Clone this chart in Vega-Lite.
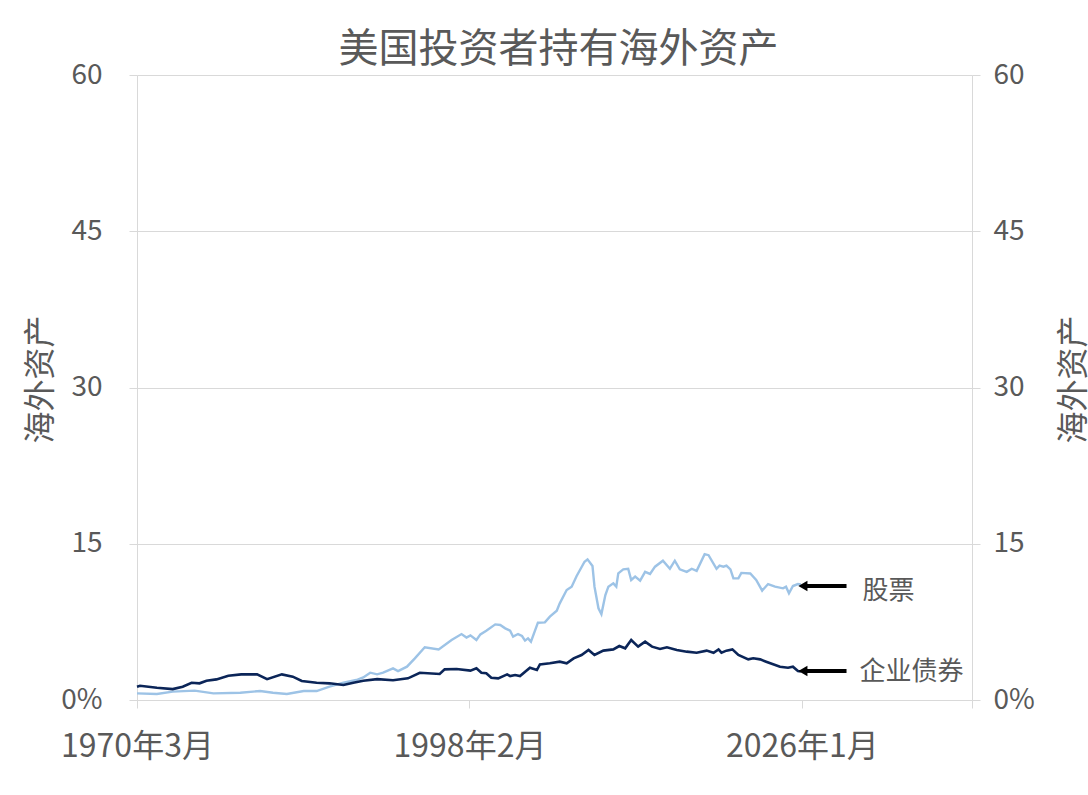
{
  "$schema": "https://vega.github.io/schema/vega-lite/v6.json",
  "autosize": "none",
  "width": 835,
  "height": 625,
  "padding": {"top": 75, "left": 137, "right": 116, "bottom": 95},
  "background": "white",
  "title": {
    "text": "美国投资者持有海外资产",
    "frame": "group",
    "anchor": "middle",
    "baseline": "bottom",
    "offset": 6,
    "dx": 4,
    "dy": 55,
    "font": "Noto Sans CJK SC",
    "fontSize": 40,
    "fontWeight": "normal",
    "color": "#595959"
  },
  "config": {
    "view": {"stroke": null},
    "axis": {
      "labelFont": "Noto Sans CJK SC",
      "titleFont": "Noto Sans CJK SC",
      "labelColor": "#595959",
      "titleColor": "#595959",
      "domainColor": "#d9d9d9",
      "tickColor": "#d9d9d9",
      "gridColor": "#d9d9d9",
      "tickSize": 8,
      "titleFontWeight": "normal"
    }
  },
  "datasets": {
    "series": [
      {"date": "1970-03-01", "s": "股票", "v": 0.64},
      {"date": "1971-11-01", "s": "股票", "v": 0.58},
      {"date": "1973-03-01", "s": "股票", "v": 0.8},
      {"date": "1975-01-01", "s": "股票", "v": 0.9},
      {"date": "1976-08-01", "s": "股票", "v": 0.64},
      {"date": "1978-11-01", "s": "股票", "v": 0.7},
      {"date": "1980-07-01", "s": "股票", "v": 0.86},
      {"date": "1981-08-01", "s": "股票", "v": 0.7},
      {"date": "1982-10-01", "s": "股票", "v": 0.58},
      {"date": "1984-03-01", "s": "股票", "v": 0.86},
      {"date": "1985-04-01", "s": "股票", "v": 0.86},
      {"date": "1986-05-01", "s": "股票", "v": 1.28},
      {"date": "1987-07-01", "s": "股票", "v": 1.66},
      {"date": "1988-08-01", "s": "股票", "v": 1.92},
      {"date": "1989-03-01", "s": "股票", "v": 2.17},
      {"date": "1989-10-01", "s": "股票", "v": 2.62},
      {"date": "1990-05-01", "s": "股票", "v": 2.46},
      {"date": "1990-11-01", "s": "股票", "v": 2.62},
      {"date": "1991-09-01", "s": "股票", "v": 3.04},
      {"date": "1992-02-01", "s": "股票", "v": 2.78},
      {"date": "1992-11-01", "s": "股票", "v": 3.2},
      {"date": "1993-07-01", "s": "股票", "v": 4.0},
      {"date": "1994-05-01", "s": "股票", "v": 5.06},
      {"date": "1995-07-01", "s": "股票", "v": 4.86},
      {"date": "1996-08-01", "s": "股票", "v": 5.76},
      {"date": "1997-06-01", "s": "股票", "v": 6.33},
      {"date": "1997-11-01", "s": "股票", "v": 6.0},
      {"date": "1998-03-01", "s": "股票", "v": 6.2},
      {"date": "1998-09-01", "s": "股票", "v": 5.76},
      {"date": "1999-01-01", "s": "股票", "v": 6.3},
      {"date": "1999-07-01", "s": "股票", "v": 6.65},
      {"date": "2000-04-01", "s": "股票", "v": 7.26},
      {"date": "2000-09-01", "s": "股票", "v": 7.2},
      {"date": "2001-02-01", "s": "股票", "v": 6.88},
      {"date": "2001-07-01", "s": "股票", "v": 6.65},
      {"date": "2001-10-01", "s": "股票", "v": 6.08},
      {"date": "2002-03-01", "s": "股票", "v": 6.33},
      {"date": "2002-07-01", "s": "股票", "v": 6.14},
      {"date": "2002-10-01", "s": "股票", "v": 5.7},
      {"date": "2003-01-01", "s": "股票", "v": 5.92},
      {"date": "2003-04-01", "s": "股票", "v": 5.6},
      {"date": "2003-11-01", "s": "股票", "v": 7.42},
      {"date": "2004-06-01", "s": "股票", "v": 7.45},
      {"date": "2004-11-01", "s": "股票", "v": 8.0},
      {"date": "2005-06-01", "s": "股票", "v": 8.57},
      {"date": "2005-09-01", "s": "股票", "v": 9.28},
      {"date": "2006-04-01", "s": "股票", "v": 10.56},
      {"date": "2006-09-01", "s": "股票", "v": 10.88},
      {"date": "2007-02-01", "s": "股票", "v": 11.9},
      {"date": "2007-10-01", "s": "股票", "v": 13.27},
      {"date": "2008-01-01", "s": "股票", "v": 13.5},
      {"date": "2008-06-01", "s": "股票", "v": 12.86},
      {"date": "2008-08-01", "s": "股票", "v": 10.88},
      {"date": "2008-12-01", "s": "股票", "v": 8.8},
      {"date": "2009-03-01", "s": "股票", "v": 8.25},
      {"date": "2009-07-01", "s": "股票", "v": 10.08},
      {"date": "2009-10-01", "s": "股票", "v": 10.88},
      {"date": "2010-03-01", "s": "股票", "v": 11.2},
      {"date": "2010-06-01", "s": "股票", "v": 10.88},
      {"date": "2010-08-01", "s": "股票", "v": 12.16},
      {"date": "2011-01-01", "s": "股票", "v": 12.54},
      {"date": "2011-06-01", "s": "股票", "v": 12.6},
      {"date": "2011-09-01", "s": "股票", "v": 11.52},
      {"date": "2012-01-01", "s": "股票", "v": 11.84},
      {"date": "2012-06-01", "s": "股票", "v": 11.46},
      {"date": "2012-11-01", "s": "股票", "v": 12.3},
      {"date": "2013-04-01", "s": "股票", "v": 12.1},
      {"date": "2013-09-01", "s": "股票", "v": 12.8},
      {"date": "2014-05-01", "s": "股票", "v": 13.37},
      {"date": "2014-12-01", "s": "股票", "v": 12.6},
      {"date": "2015-05-01", "s": "股票", "v": 13.37},
      {"date": "2015-10-01", "s": "股票", "v": 12.54},
      {"date": "2016-05-01", "s": "股票", "v": 12.3},
      {"date": "2016-10-01", "s": "股票", "v": 12.6},
      {"date": "2017-03-01", "s": "股票", "v": 12.4},
      {"date": "2017-11-01", "s": "股票", "v": 14.0},
      {"date": "2018-03-01", "s": "股票", "v": 13.9},
      {"date": "2018-11-01", "s": "股票", "v": 12.6},
      {"date": "2019-02-01", "s": "股票", "v": 12.9},
      {"date": "2019-06-01", "s": "股票", "v": 12.8},
      {"date": "2019-09-01", "s": "股票", "v": 12.9},
      {"date": "2020-01-01", "s": "股票", "v": 12.54},
      {"date": "2020-04-01", "s": "股票", "v": 11.68},
      {"date": "2020-09-01", "s": "股票", "v": 11.68},
      {"date": "2020-12-01", "s": "股票", "v": 12.2},
      {"date": "2021-09-01", "s": "股票", "v": 12.15},
      {"date": "2022-03-01", "s": "股票", "v": 11.52},
      {"date": "2022-09-01", "s": "股票", "v": 10.5},
      {"date": "2023-03-01", "s": "股票", "v": 11.13},
      {"date": "2023-10-01", "s": "股票", "v": 10.88},
      {"date": "2024-06-01", "s": "股票", "v": 10.72},
      {"date": "2024-09-01", "s": "股票", "v": 10.88},
      {"date": "2024-12-01", "s": "股票", "v": 10.24},
      {"date": "2025-04-01", "s": "股票", "v": 10.94},
      {"date": "2025-09-01", "s": "股票", "v": 11.13},
      {"date": "2025-12-01", "s": "股票", "v": 11.1},
      {"date": "1970-03-01", "s": "企业债券", "v": 1.28},
      {"date": "1970-06-01", "s": "企业债券", "v": 1.37},
      {"date": "1971-11-01", "s": "企业债券", "v": 1.18},
      {"date": "1973-03-01", "s": "企业债券", "v": 1.05},
      {"date": "1974-01-01", "s": "企业债券", "v": 1.28},
      {"date": "1974-10-01", "s": "企业债券", "v": 1.66},
      {"date": "1975-06-01", "s": "企业债券", "v": 1.6},
      {"date": "1976-01-01", "s": "企业债券", "v": 1.85},
      {"date": "1976-11-01", "s": "企业债券", "v": 1.98},
      {"date": "1977-11-01", "s": "企业债券", "v": 2.33},
      {"date": "1978-12-01", "s": "企业债券", "v": 2.46},
      {"date": "1980-04-01", "s": "企业债券", "v": 2.46},
      {"date": "1981-02-01", "s": "企业债券", "v": 2.0},
      {"date": "1982-05-01", "s": "企业债券", "v": 2.46},
      {"date": "1983-04-01", "s": "企业债券", "v": 2.24},
      {"date": "1984-01-01", "s": "企业债券", "v": 1.82},
      {"date": "1985-04-01", "s": "企业债券", "v": 1.66},
      {"date": "1986-05-01", "s": "企业债券", "v": 1.6},
      {"date": "1987-07-01", "s": "企业债券", "v": 1.44},
      {"date": "1988-05-01", "s": "企业债券", "v": 1.66},
      {"date": "1989-03-01", "s": "企业债券", "v": 1.85},
      {"date": "1990-05-01", "s": "企业债券", "v": 2.0},
      {"date": "1991-09-01", "s": "企业债券", "v": 1.9},
      {"date": "1992-12-01", "s": "企业债券", "v": 2.08},
      {"date": "1993-12-01", "s": "企业债券", "v": 2.62},
      {"date": "1995-08-01", "s": "企业债券", "v": 2.5},
      {"date": "1996-01-01", "s": "企业债券", "v": 2.94},
      {"date": "1997-01-01", "s": "企业债券", "v": 2.97},
      {"date": "1998-03-01", "s": "企业债券", "v": 2.82},
      {"date": "1998-09-01", "s": "企业债券", "v": 3.04},
      {"date": "1999-02-01", "s": "企业债券", "v": 2.62},
      {"date": "1999-07-01", "s": "企业债券", "v": 2.56},
      {"date": "1999-12-01", "s": "企业债券", "v": 2.14},
      {"date": "2000-07-01", "s": "企业债券", "v": 2.08},
      {"date": "2001-04-01", "s": "企业债券", "v": 2.46},
      {"date": "2001-07-01", "s": "企业债券", "v": 2.3},
      {"date": "2001-12-01", "s": "企业债券", "v": 2.4},
      {"date": "2002-05-01", "s": "企业债券", "v": 2.3},
      {"date": "2003-03-01", "s": "企业债券", "v": 3.1},
      {"date": "2003-10-01", "s": "企业债券", "v": 2.88},
      {"date": "2004-01-01", "s": "企业债券", "v": 3.42},
      {"date": "2004-11-01", "s": "企业债券", "v": 3.52},
      {"date": "2005-09-01", "s": "企业债券", "v": 3.68},
      {"date": "2006-04-01", "s": "企业债券", "v": 3.52},
      {"date": "2006-11-01", "s": "企业债券", "v": 4.0},
      {"date": "2007-07-01", "s": "企业债券", "v": 4.32},
      {"date": "2008-02-01", "s": "企业债券", "v": 4.8},
      {"date": "2008-08-01", "s": "企业债券", "v": 4.32},
      {"date": "2009-05-01", "s": "企业债券", "v": 4.74},
      {"date": "2010-03-01", "s": "企业债券", "v": 4.86},
      {"date": "2010-09-01", "s": "企业债券", "v": 5.18},
      {"date": "2011-03-01", "s": "企业债券", "v": 4.96},
      {"date": "2011-09-01", "s": "企业债券", "v": 5.76},
      {"date": "2012-04-01", "s": "企业债券", "v": 5.12},
      {"date": "2012-11-01", "s": "企业债券", "v": 5.6},
      {"date": "2013-06-01", "s": "企业债券", "v": 5.12},
      {"date": "2014-02-01", "s": "企业债券", "v": 4.9},
      {"date": "2014-09-01", "s": "企业债券", "v": 5.06},
      {"date": "2015-07-01", "s": "企业债券", "v": 4.8},
      {"date": "2016-05-01", "s": "企业债券", "v": 4.64},
      {"date": "2017-03-01", "s": "企业债券", "v": 4.54},
      {"date": "2018-01-01", "s": "企业债券", "v": 4.74},
      {"date": "2018-08-01", "s": "企业债券", "v": 4.54},
      {"date": "2019-01-01", "s": "企业债券", "v": 4.86},
      {"date": "2019-04-01", "s": "企业债券", "v": 4.54},
      {"date": "2019-09-01", "s": "企业债券", "v": 4.74},
      {"date": "2020-03-01", "s": "企业债券", "v": 4.86},
      {"date": "2020-09-01", "s": "企业债券", "v": 4.32},
      {"date": "2021-07-01", "s": "企业债券", "v": 3.9},
      {"date": "2021-12-01", "s": "企业债券", "v": 4.0},
      {"date": "2022-07-01", "s": "企业债券", "v": 3.9},
      {"date": "2023-01-01", "s": "企业债券", "v": 3.68},
      {"date": "2024-03-01", "s": "企业债券", "v": 3.2},
      {"date": "2024-11-01", "s": "企业债券", "v": 3.1},
      {"date": "2025-04-01", "s": "企业债券", "v": 3.2},
      {"date": "2025-09-01", "s": "企业债券", "v": 2.78},
      {"date": "2025-12-01", "s": "企业债券", "v": 2.75}
    ],
    "notes": [
      {"s": "股票", "tip": "2026-02-01", "tail": "2029-10-01", "v": 10.94, "textDate": "2031-02-01", "textV": 10.5},
      {"s": "企业债券", "tip": "2026-02-01", "tail": "2029-10-01", "v": 2.78, "textDate": "2030-11-01", "textV": 2.7}
    ]
  },
  "resolve": {"scale": {"y": "independent"}},
  "layer": [
    {
      "resolve": {"scale": {"y": "shared"}},
      "encoding": {
        "y": {
          "type": "quantitative",
          "scale": {"domain": [0, 60], "nice": false},
          "axis": {
            "orient": "left",
            "values": [0, 15, 30, 45, 60],
            "labelExpr": "datum.value == 0 ? '0%' : datum.label",
            "labelFontSize": 28,
            "labelPadding": 27,
            "grid": true,
            "title": "海外资产",
            "titleFontSize": 32,
            "titleAngle": -90,
            "titleAlign": "center",
            "titleBaseline": "middle",
            "titleX": -97,
            "titleY": 304
          }
        }
      },
      "layer": [
        {
          "data": {"name": "series"},
          "transform": [{"filter": "datum.s == '股票'"}],
          "mark": {"type": "line", "color": "#9dc3e6", "strokeWidth": 2.4},
          "encoding": {
            "x": {
              "field": "date",
              "type": "temporal",
              "scale": {"type": "utc", "domain": [{"year": 1970, "month": 3, "date": 1, "utc": true}, {"year": 2040, "month": 4, "date": 15, "utc": true}]},
              "axis": {
                "values": [
                  {"year": 1970, "month": 3, "date": 1, "utc": true},
                  {"year": 1998, "month": 2, "date": 1, "utc": true},
                  {"year": 2026, "month": 1, "date": 1, "utc": true},
                  {"year": 2040, "month": 4, "date": 15, "utc": true}
                ],
                "labelExpr": "utcyear(datum.value) > 2030 ? '' : utcFormat(datum.value, '%Y年%-m月')",
                "labelFontSize": 32,
                "labelPadding": 23,
                "labelFlush": false,
                "labelOverlap": false,
                "labelBound": false,
                "grid": false,
                "title": null
              }
            },
            "y": {"field": "v"}
          }
        },
        {
          "data": {"name": "series"},
          "transform": [{"filter": "datum.s == '企业债券'"}],
          "mark": {"type": "line", "color": "#0b2558", "strokeWidth": 2.6},
          "encoding": {
            "x": {"field": "date", "type": "temporal"},
            "y": {"field": "v"}
          }
        },
        {
          "data": {"name": "notes"},
          "mark": {"type": "rule", "color": "black", "strokeWidth": 4},
          "encoding": {
            "x": {"field": "tip", "type": "temporal"},
            "x2": {"field": "tail"},
            "y": {"field": "v"}
          }
        },
        {
          "data": {"name": "notes"},
          "mark": {"type": "point", "shape": "triangle-left", "filled": true, "color": "black", "opacity": 1, "size": 110},
          "encoding": {
            "x": {"field": "tip", "type": "temporal"},
            "y": {"field": "v"}
          }
        },
        {
          "data": {"name": "notes"},
          "mark": {"type": "text", "align": "left", "baseline": "middle", "font": "Noto Sans CJK SC", "fontSize": 26, "color": "#595959"},
          "encoding": {
            "x": {"field": "textDate", "type": "temporal"},
            "y": {"field": "textV"},
            "text": {"field": "s"}
          }
        }
      ]
    },
    {
      "data": {"name": "series"},
      "mark": {"type": "line", "strokeOpacity": 0},
      "encoding": {
        "x": {"field": "date", "type": "temporal"},
        "y": {
          "field": "v",
          "type": "quantitative",
          "scale": {"domain": [0, 60], "nice": false},
          "axis": {
            "orient": "right",
            "values": [0, 15, 30, 45, 60],
            "labelExpr": "datum.value == 0 ? '0%' : datum.label",
            "labelFontSize": 28,
            "labelPadding": 13,
            "grid": false,
            "title": "海外资产",
            "titleFontSize": 32,
            "titleAngle": -90,
            "titleAlign": "center",
            "titleBaseline": "middle",
            "titleX": 101,
            "titleY": 304
          }
        },
        "detail": {"field": "s"}
      }
    }
  ]
}
